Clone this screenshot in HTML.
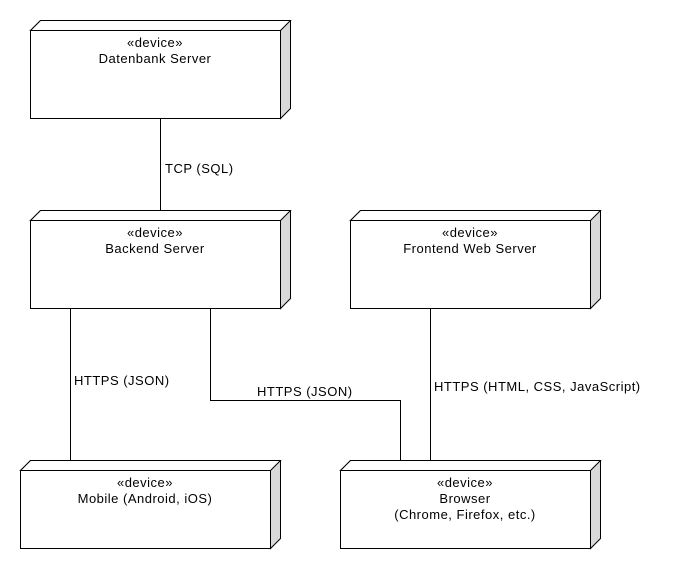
<!DOCTYPE html>
<html><head><meta charset="utf-8"><style>
body{margin:0;background:#fff}
svg text{font-family:"Liberation Sans",sans-serif;font-size:13px;letter-spacing:0.5px;fill:#000}
</style></head><body>
<svg width="680" height="570" xmlns="http://www.w3.org/2000/svg">
<g stroke="#000" stroke-width="1" fill="none">
<path d="M160.5 118V210M70.5 308V460M210.5 308V400.5H400.5V460M430.5 308V460"/>
</g>
<g stroke="#000" stroke-width="1">
<g transform="translate(30.5,30.5)"><path d="M0 0L10 -10H260V78L250 88V0Z" fill="#d9d9d9"/><path d="M0 0L10 -10H260L250 0Z" fill="#fff"/><rect width="250" height="88" fill="#fff"/></g>
<g transform="translate(30.5,220.5)"><path d="M0 0L10 -10H260V78L250 88V0Z" fill="#d9d9d9"/><path d="M0 0L10 -10H260L250 0Z" fill="#fff"/><rect width="250" height="88" fill="#fff"/></g>
<g transform="translate(350.5,220.5)"><path d="M0 0L10 -10H250V78L240 88V0Z" fill="#d9d9d9"/><path d="M0 0L10 -10H250L240 0Z" fill="#fff"/><rect width="240" height="88" fill="#fff"/></g>
<g transform="translate(20.5,470.5)"><path d="M0 0L10 -10H260V68L250 78V0Z" fill="#d9d9d9"/><path d="M0 0L10 -10H260L250 0Z" fill="#fff"/><rect width="250" height="78" fill="#fff"/></g>
<g transform="translate(340.5,470.5)"><path d="M0 0L10 -10H260V68L250 78V0Z" fill="#d9d9d9"/><path d="M0 0L10 -10H260L250 0Z" fill="#fff"/><rect width="250" height="78" fill="#fff"/></g>
</g>
<g text-anchor="middle">
<text x="155" y="47">«device»</text><text x="155" y="63">Datenbank Server</text>
<text x="155" y="237">«device»</text><text x="155" y="253">Backend Server</text>
<text x="470" y="237">«device»</text><text x="470" y="253">Frontend Web Server</text>
<text x="145" y="487">«device»</text><text x="145" y="503">Mobile (Android, iOS)</text>
<text x="465" y="487">«device»</text><text x="465" y="503">Browser</text><text x="465" y="519">(Chrome, Firefox, etc.)</text>
</g>
<text x="165" y="173">TCP (SQL)</text>
<text x="74" y="385">HTTPS (JSON)</text>
<text x="257" y="396">HTTPS (JSON)</text>
<text x="434" y="391">HTTPS (HTML, CSS, JavaScript)</text>
</svg>
</body></html>
